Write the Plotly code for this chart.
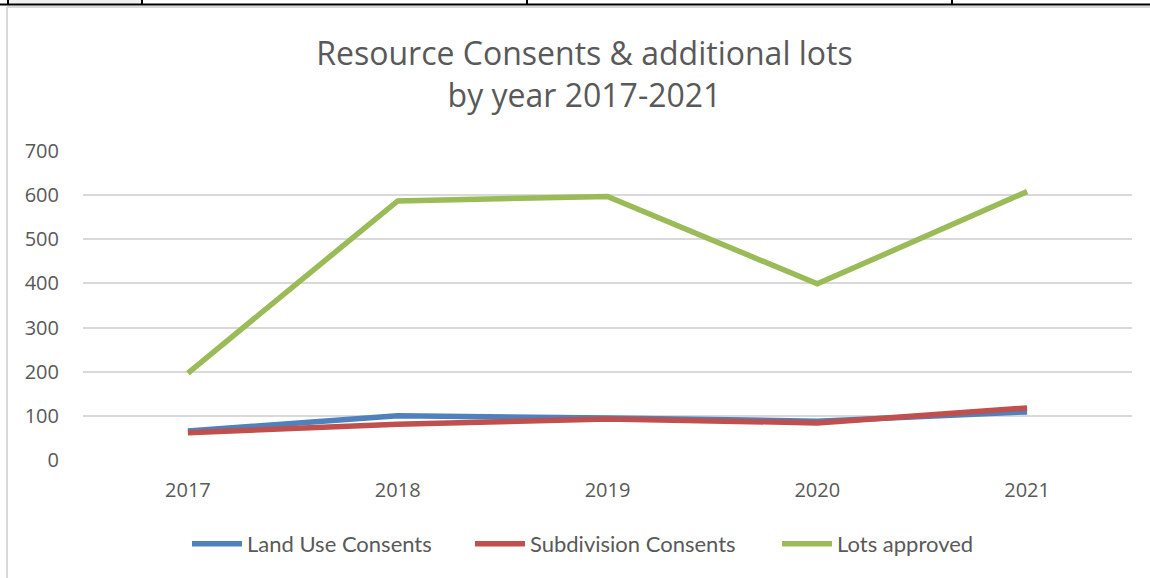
import plotly.graph_objects as go

years = ["2017", "2018", "2019", "2020", "2021"]
land_use = [66, 100, 95, 88, 109]
subdivision = [62, 81, 93, 84, 118]
lots_approved = [197, 587, 597, 399, 608]

W, H = 1150, 578
L, R, T, B = 83, 1132, 151, 460

def px(x):
    return (x - L) / (R - L)

def py(y):
    return (B - y) / (B - T)

fig = go.Figure()
series = [
    ("Land Use Consents", land_use, "#4F81BD", "legend", 194),
    ("Subdivision Consents", subdivision, "#C0504D", "legend2", 477),
    ("Lots approved", lots_approved, "#9BBB59", "legend3", 784),
]
legends = {}
for name, vals, col, lg, lx in series:
    fig.add_trace(go.Scatter(x=years, y=vals, name=name, mode="lines", legend=lg,
                             line=dict(color=col, width=5.5), cliponaxis=False))
    legends[lg] = dict(orientation="h", x=(lx - 7) / W, xref="container", xanchor="left",
                       y=1 - 544 / H, yref="container", yanchor="middle",
                       font=dict(family="Lato", size=22, color="#595959"), itemwidth=50,
                       bgcolor="rgba(0,0,0,0)")

shapes = []
shapes.append(dict(type="rect", xref="paper", yref="paper", x0=px(8), x1=px(141), y0=py(0), y1=py(4),
                   fillcolor="#f0f0f0", line=dict(width=0), layer="below"))
shapes.append(dict(type="line", xref="paper", yref="paper", x0=px(0), x1=px(1150), y0=py(4.5), y1=py(4.5),
                   line=dict(color="black", width=2)))
for xv in [8, 142, 527, 952]:
    shapes.append(dict(type="line", xref="paper", yref="paper", x0=px(xv), x1=px(xv), y0=py(0), y1=py(5),
                       line=dict(color="black", width=2)))
shapes.append(dict(type="line", xref="paper", yref="paper", x0=px(7), x1=px(1150), y0=py(7), y1=py(7),
                   line=dict(color="#d9d9d9", width=2)))
shapes.append(dict(type="line", xref="paper", yref="paper", x0=px(7), x1=px(7), y0=py(7), y1=py(578),
                   line=dict(color="#d9d9d9", width=2)))

fig.update_layout(
    width=W, height=H,
    margin=dict(l=L, r=W - R, t=T, b=H - B, autoexpand=False),
    paper_bgcolor="white", plot_bgcolor="white",
    title=dict(text="Resource Consents & additional lots<br>by year 2017-2021",
               x=(313 + 856) / 2 / W, xanchor="center", y=1 - 65 / H, yanchor="middle",
               font=dict(family="Open Sans", size=32, color="#595959")),
    xaxis=dict(type="category", range=[-0.5, 4.5], showgrid=False, showline=False, zeroline=False,
               ticks="", tickfont=dict(family="Open Sans", size=20, color="#595959"), ticklabelstandoff=16),
    yaxis=dict(range=[0, 700], tickvals=[0, 100, 200, 300, 400, 500, 600, 700], showgrid=True,
               gridcolor="#d9d9d9", gridwidth=1.5, zeroline=False, showline=False, ticks="",
               tickfont=dict(family="Open Sans", size=20, color="#595959"), ticklabelstandoff=23),
    showlegend=True,
    shapes=shapes,
    **legends,
)
fig.write_html("out.html")
